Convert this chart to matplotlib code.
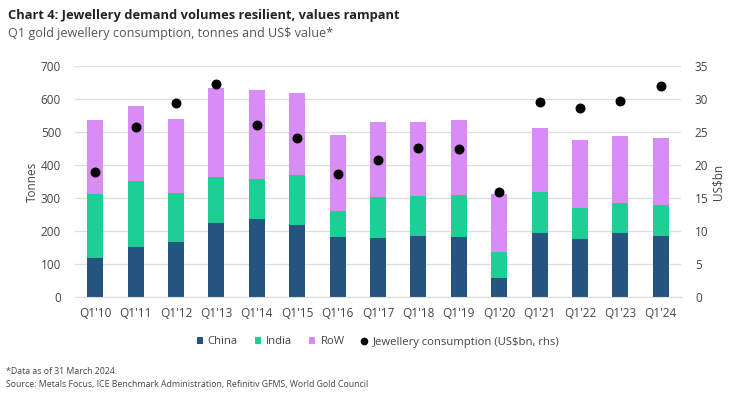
import matplotlib
matplotlib.use("Agg")
import matplotlib.pyplot as plt
import numpy as np
from matplotlib.lines import Line2D
from matplotlib.patches import Patch

plt.rcParams['font.family'] = ['Open Sans', 'DejaVu Sans']

categories = ["Q1'10", "Q1'11", "Q1'12", "Q1'13", "Q1'14", "Q1'15", "Q1'16", "Q1'17",
              "Q1'18", "Q1'19", "Q1'20", "Q1'21", "Q1'22", "Q1'23", "Q1'24"]
china = [118, 152, 168, 223, 235, 218, 182, 178, 186, 183, 59, 193, 177, 195, 184]
india = [193, 201, 147, 142, 123, 152, 80, 124, 121, 127, 76, 126, 94, 91, 96]
row = [224, 227, 225, 267, 269, 247, 230, 227, 223, 227, 178, 192, 204, 203, 201]
value_usbn = [19.0, 25.8, 29.4, 32.3, 26.0, 24.1, 18.7, 20.7, 22.6, 22.5, 15.9, 29.5, 28.6, 29.7, 31.9]

c_china = '#24547f'
c_india = '#1dcf94'
c_row = '#d98cf6'
grid_c = '#dddddd'
txt_c = '#444444'

fig = plt.figure(figsize=(7.30, 3.95), dpi=100)
ax = fig.add_axes([75/730, 1-297/395, (681-75)/730, (297-66)/395])
x = np.arange(len(categories))
w = 0.4
china_a = np.array(china); india_a = np.array(india); row_a = np.array(row)
ax.bar(x, china_a, w, color=c_china, zorder=2)
ax.bar(x, india_a, w, bottom=china_a, color=c_india, zorder=2)
ax.bar(x, row_a, w, bottom=china_a+india_a, color=c_row, zorder=2)
ax.set_xlim(-0.5, len(categories)-0.5)
ax.set_ylim(0, 700)
ax.set_yticks(range(0, 701, 100))
ax.yaxis.grid(True, color=grid_c, linewidth=0.9, zorder=0)
ax.set_axisbelow(True)
for s in ['top', 'right', 'left']:
    ax.spines[s].set_visible(False)
ax.spines['bottom'].set_color(grid_c)
ax.tick_params(axis='both', length=0, labelsize=8.5, colors=txt_c)
ax.tick_params(axis='y', pad=10)
ax.tick_params(axis='x', pad=7)
ax.set_xticks(x)
ax.set_xticklabels(categories)
ax.set_ylabel('Tonnes', fontsize=8.5, color=txt_c, labelpad=1)

ax2 = ax.twinx()
ax2.set_ylim(0, 35)
ax2.set_yticks(range(0, 36, 5))
ax2.scatter(x, value_usbn, s=38, color='black', zorder=3)
for s in ['top', 'right', 'left', 'bottom']:
    ax2.spines[s].set_visible(False)
ax2.tick_params(axis='y', length=0, labelsize=8.5, colors=txt_c, pad=10)
ax2.set_ylabel('US$bn', fontsize=8.5, color=txt_c, labelpad=2)

fig.text(8/730, 1-16/395, 'Chart 4: Jewellery demand volumes resilient, values rampant',
         fontsize=9.3, fontweight='bold', color='#222222', va='center', ha='left')
fig.text(8/730, 1-34/395, 'Q1 gold jewellery consumption, tonnes and US$ value*',
         fontsize=9.1, color='#555555', va='center', ha='left')

handles = [Patch(facecolor=c_china, label='China'),
           Patch(facecolor=c_india, label='India'),
           Patch(facecolor=c_row, label='RoW'),
           Line2D([], [], marker='o', color='black', linestyle='none', markersize=4.5,
                  label='Jewellery consumption (US$bn, rhs)')]
fig.legend(handles=handles, loc='center', bbox_to_anchor=(378/730, 1-342/395), ncol=4,
           frameon=False, fontsize=8.1, handlelength=0.55, handleheight=0.55,
           handletextpad=0.45, columnspacing=1.5, labelcolor=txt_c)

fig.text(6/730, 1-372/395, '*Data as of 31 March 2024.', fontsize=6.3, color=txt_c, va='center')
fig.text(6/730, 1-385/395, 'Source: Metals Focus, ICE Benchmark Administration, Refinitiv GFMS, World Gold Council',
         fontsize=6.3, color=txt_c, va='center')

fig.savefig('out.png', dpi=100)
